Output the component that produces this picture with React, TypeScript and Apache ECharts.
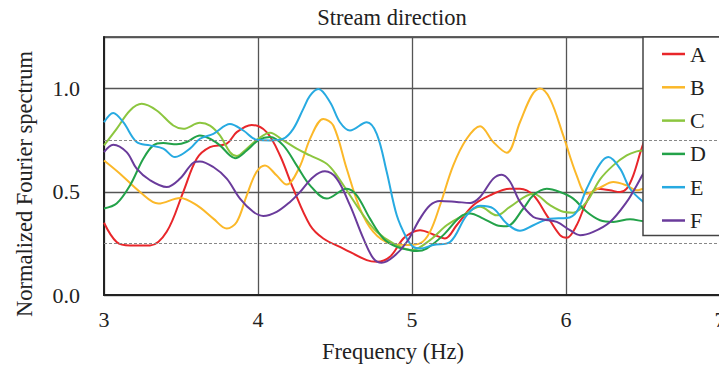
import React, { useEffect, useRef } from "react";
import * as echarts from "echarts";

// Frequency (Hz) / normalized spectrum pairs per measuring point
const seriesA: [number, number][] = [
  [3.0, 0.35], [3.082, 0.257], [3.169, 0.24], [3.299, 0.24], [3.407, 0.306], [3.515, 0.5],
  [3.602, 0.66], [3.688, 0.716], [3.797, 0.733], [3.862, 0.789], [3.959, 0.824], [4.056, 0.789],
  [4.143, 0.676], [4.229, 0.515], [4.338, 0.338], [4.424, 0.274], [4.554, 0.225], [4.706, 0.169],
  [4.771, 0.161], [4.857, 0.185], [4.944, 0.274], [5.008, 0.306], [5.052, 0.314], [5.138, 0.293],
  [5.214, 0.274], [5.29, 0.338], [5.398, 0.435], [5.506, 0.483], [5.636, 0.515], [5.701, 0.515],
  [5.788, 0.483], [5.875, 0.386], [5.961, 0.29], [6.005, 0.277], [6.069, 0.338], [6.134, 0.451],
  [6.199, 0.515], [6.286, 0.507], [6.351, 0.499], [6.394, 0.515], [6.437, 0.58], [6.502, 0.733],
  [6.6, 0.9],
];

const seriesB: [number, number][] = [
  [3.0, 0.652], [3.104, 0.588], [3.234, 0.499], [3.353, 0.443], [3.494, 0.47], [3.602, 0.435],
  [3.71, 0.37], [3.797, 0.322], [3.862, 0.354], [3.927, 0.483], [3.99, 0.596], [4.045, 0.628],
  [4.12, 0.58], [4.186, 0.535], [4.27, 0.62], [4.34, 0.76], [4.424, 0.853], [4.489, 0.821],
  [4.576, 0.612], [4.662, 0.419], [4.749, 0.306], [4.857, 0.25], [4.966, 0.242], [5.052, 0.25],
  [5.117, 0.306], [5.182, 0.435], [5.268, 0.628], [5.355, 0.757], [5.442, 0.818], [5.528, 0.741],
  [5.615, 0.689], [5.701, 0.837], [5.777, 0.966], [5.831, 1.0], [5.896, 0.95], [5.982, 0.773],
  [6.069, 0.58], [6.134, 0.491], [6.22, 0.52], [6.307, 0.547], [6.394, 0.531], [6.459, 0.507],
  [6.502, 0.515], [6.6, 0.53],
];

const seriesC: [number, number][] = [
  [3.0, 0.725], [3.082, 0.805], [3.169, 0.894], [3.245, 0.926], [3.342, 0.894], [3.45, 0.821],
  [3.515, 0.805], [3.623, 0.834], [3.688, 0.821], [3.753, 0.773], [3.818, 0.692], [3.862, 0.673],
  [3.927, 0.709], [4.002, 0.757], [4.078, 0.786], [4.164, 0.749], [4.251, 0.709], [4.338, 0.676],
  [4.446, 0.636], [4.511, 0.58], [4.597, 0.483], [4.684, 0.386], [4.771, 0.306], [4.879, 0.25],
  [5.0, 0.218], [5.117, 0.266], [5.225, 0.338], [5.333, 0.386], [5.442, 0.427], [5.55, 0.386],
  [5.636, 0.427], [5.788, 0.491], [5.896, 0.435], [5.982, 0.403], [6.047, 0.399], [6.134, 0.451],
  [6.221, 0.56], [6.307, 0.628], [6.394, 0.676], [6.459, 0.696], [6.502, 0.7], [6.6, 0.7],
];

const seriesD: [number, number][] = [
  [3.0, 0.419], [3.082, 0.443], [3.169, 0.531], [3.255, 0.66], [3.32, 0.725], [3.385, 0.736],
  [3.472, 0.73], [3.537, 0.741], [3.623, 0.773], [3.688, 0.757], [3.753, 0.725], [3.818, 0.676],
  [3.851, 0.663], [3.927, 0.7], [4.002, 0.749], [4.078, 0.765], [4.164, 0.725], [4.251, 0.628],
  [4.338, 0.531], [4.446, 0.467], [4.576, 0.515], [4.641, 0.483], [4.727, 0.37], [4.814, 0.274],
  [4.901, 0.233], [4.987, 0.217], [5.031, 0.213], [5.095, 0.225], [5.203, 0.29], [5.312, 0.378],
  [5.377, 0.395], [5.463, 0.37], [5.55, 0.338], [5.615, 0.333], [5.723, 0.419], [5.788, 0.483],
  [5.875, 0.515], [5.961, 0.499], [6.047, 0.467], [6.134, 0.403], [6.221, 0.362], [6.307, 0.354],
  [6.416, 0.367], [6.502, 0.357], [6.6, 0.35],
];

const seriesE: [number, number][] = [
  [3.0, 0.837], [3.06, 0.882], [3.125, 0.837], [3.212, 0.741], [3.299, 0.725], [3.385, 0.709],
  [3.461, 0.668], [3.558, 0.709], [3.623, 0.757], [3.71, 0.781], [3.818, 0.829], [3.905, 0.797],
  [3.992, 0.752], [4.078, 0.749], [4.164, 0.757], [4.229, 0.805], [4.294, 0.902], [4.338, 0.966],
  [4.392, 0.998], [4.468, 0.934], [4.532, 0.837], [4.597, 0.797], [4.706, 0.837], [4.771, 0.781],
  [4.836, 0.596], [4.901, 0.386], [4.966, 0.274], [5.008, 0.233], [5.052, 0.225], [5.138, 0.242],
  [5.247, 0.257], [5.355, 0.386], [5.442, 0.432], [5.528, 0.419], [5.615, 0.346], [5.701, 0.311],
  [5.788, 0.338], [5.896, 0.37], [6.005, 0.373], [6.069, 0.403], [6.134, 0.515], [6.221, 0.635],
  [6.275, 0.668], [6.351, 0.612], [6.416, 0.515], [6.502, 0.451], [6.6, 0.4],
];

const seriesF: [number, number][] = [
  [3.0, 0.692], [3.06, 0.728], [3.147, 0.692], [3.212, 0.612], [3.299, 0.556], [3.407, 0.523],
  [3.494, 0.564], [3.58, 0.641], [3.623, 0.647], [3.71, 0.62], [3.797, 0.564], [3.883, 0.467],
  [3.969, 0.403], [4.034, 0.383], [4.121, 0.403], [4.208, 0.451], [4.273, 0.499], [4.359, 0.572],
  [4.435, 0.599], [4.511, 0.564], [4.597, 0.435], [4.684, 0.274], [4.749, 0.177], [4.803, 0.156],
  [4.879, 0.185], [4.966, 0.257], [5.052, 0.37], [5.117, 0.435], [5.182, 0.456], [5.29, 0.451],
  [5.377, 0.446], [5.442, 0.475], [5.528, 0.564], [5.583, 0.583], [5.636, 0.55], [5.701, 0.451],
  [5.788, 0.378], [5.853, 0.366], [5.94, 0.354], [6.026, 0.314], [6.091, 0.29], [6.177, 0.306],
  [6.286, 0.354], [6.394, 0.451], [6.459, 0.531], [6.502, 0.588], [6.6, 0.7],
];

const seriesNames = ["A", "B", "C", "D", "E", "F"];
const seriesColors = ["#e8262a", "#fbb829", "#8cc63f", "#23a249", "#27aae1", "#6a3b9b"];
const seriesData = [seriesA, seriesB, seriesC, seriesD, seriesE, seriesF];
const dashedLevels = [0.25, 0.75];

const FONT = '"Liberation Serif", "Times New Roman", serif';
const TEXT = "#222";

export default function App() {
  const ref = useRef<HTMLDivElement>(null);

  useEffect(() => {
    if (!ref.current) return;
    const chart = echarts.init(ref.current, undefined, { renderer: "svg" });

    const lines = seriesNames.map((name, i) => ({
      name,
      type: "line",
      data: seriesData[i],
      smooth: 0.35,
      symbol: "none",
      z: 3,
      lineStyle: { color: seriesColors[i], width: 2 },
      itemStyle: { color: seriesColors[i] },
    }));

    chart.setOption({
      animation: false,
      grid: {
        left: 104,
        top: 37,
        width: 616,
        height: 258,
        outerBoundsMode: "none",
        containLabel: false,
        show: true,
        borderColor: "#333",
        borderWidth: 1.5,
        backgroundColor: "transparent",
      },
      xAxis: {
        type: "value",
        min: 3,
        max: 7,
        interval: 1,
        axisLine: { show: true, lineStyle: { color: "#222", width: 2 } },
        axisTick: { show: false },
        axisLabel: { color: TEXT, fontFamily: FONT, fontSize: 22, margin: 13 },
        splitLine: { show: true, lineStyle: { color: "#555", width: 1.3 } },
      },
      yAxis: {
        type: "value",
        min: 0,
        max: 1.25,
        interval: 0.5,
        axisLine: { show: true, lineStyle: { color: "#222", width: 2 } },
        axisTick: { show: false },
        axisLabel: {
          color: TEXT,
          fontFamily: FONT,
          fontSize: 22,
          margin: 24,
          showMaxLabel: false,
          formatter: (v: number) => v.toFixed(1),
        },
        splitLine: { show: true, lineStyle: { color: "#555", width: 1.3 } },
      },
      legend: {
        orient: "vertical",
        left: 643,
        top: 37,
        padding: [6, 40, 4, 19],
        icon: "rect",
        itemWidth: 23,
        itemHeight: 2.5,
        itemGap: 11.3,
        itemTextGap: 2,
        backgroundColor: "#fff",
        borderColor: "#444",
        borderWidth: 1.5,
        textStyle: { color: TEXT, fontFamily: FONT, fontSize: 22, lineHeight: 22 },
        data: seriesNames,
      },
      graphic: [
        {
          type: "text",
          x: 392,
          y: 17,
          style: {
            text: "Stream direction",
            font: `22.5px ${FONT}`,
            fill: TEXT,
            align: "center",
            verticalAlign: "middle",
          },
        },
        {
          type: "text",
          x: 393,
          y: 351,
          style: {
            text: "Frequency (Hz)",
            font: `22.5px ${FONT}`,
            fill: TEXT,
            align: "center",
            verticalAlign: "middle",
          },
        },
        {
          type: "text",
          x: 24,
          y: 184,
          rotation: Math.PI / 2,
          style: {
            text: "Normalized Fourier spectrum",
            font: `22.5px ${FONT}`,
            fill: TEXT,
            align: "center",
            verticalAlign: "middle",
          },
        },
      ],
      series: [
        {
          name: "guides",
          type: "line",
          data: [],
          z: 1,
          silent: true,
          markLine: {
            silent: true,
            symbol: "none",
            label: { show: false },
            lineStyle: { color: "#888", type: [3, 2], width: 1 },
            data: dashedLevels.map((v) => ({ yAxis: v })),
          },
        },
        ...lines,
      ],
    });

    return () => chart.dispose();
  }, []);

  return (
    <div
      ref={ref}
      style={{ position: "fixed", left: 0, top: 0, width: 719, height: 367, background: "#fff" }}
    />
  );
}
